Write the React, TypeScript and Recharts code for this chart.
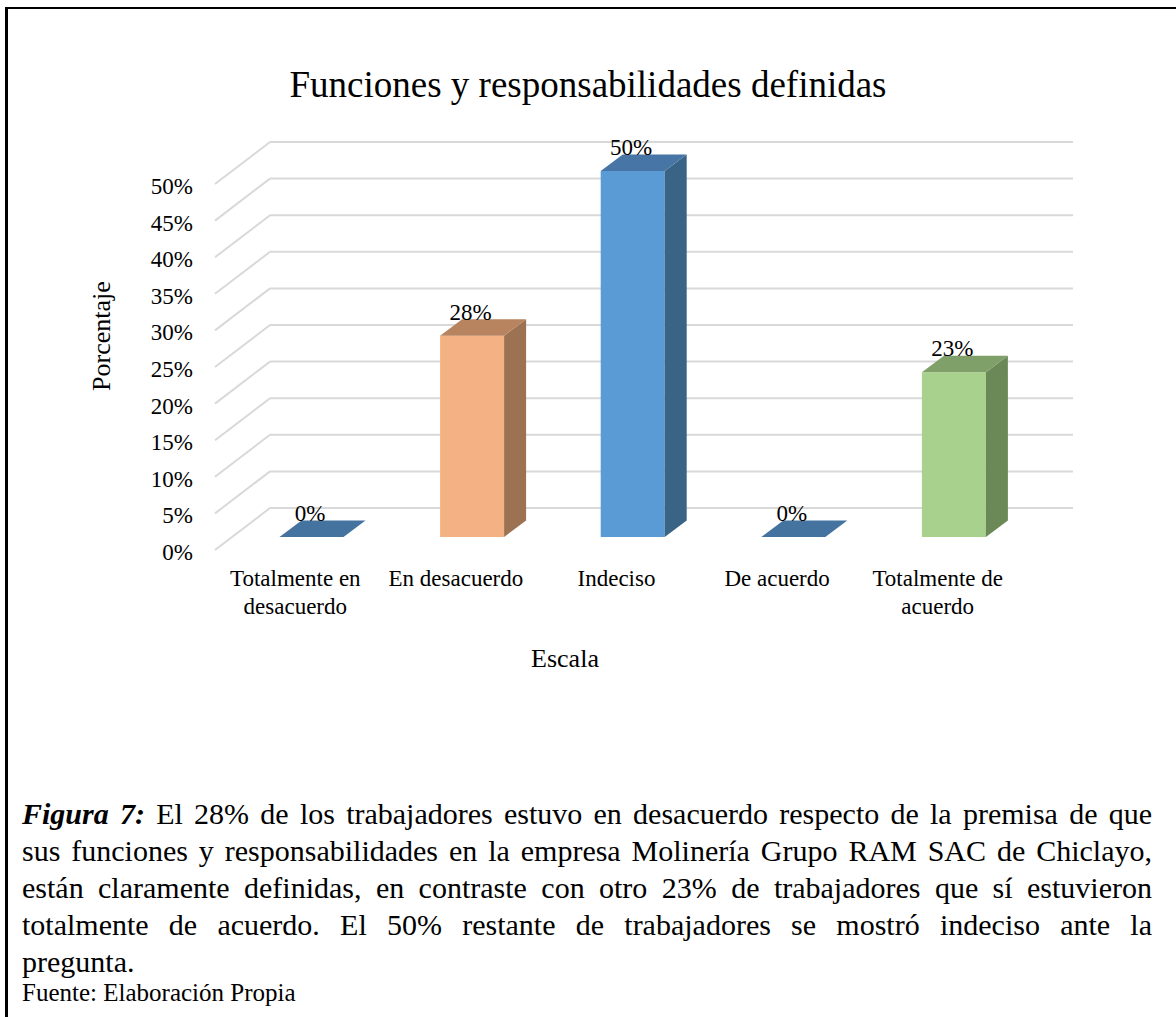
import { BarChart, Bar, XAxis, YAxis, CartesianGrid, Cell, LabelList } from 'recharts';

const categories = [
  'Totalmente en desacuerdo',
  'En desacuerdo',
  'Indeciso',
  'De acuerdo',
  'Totalmente de acuerdo',
];
// how the category names break on the axis
const categoryLines = [
  ['Totalmente en', 'desacuerdo'],
  ['En desacuerdo'],
  ['Indeciso'],
  ['De acuerdo'],
  ['Totalmente de', 'acuerdo'],
];
const percentages = [0, 27.5, 50, 0, 22.5];
const yTicks = [0, 5, 10, 15, 20, 25, 30, 35, 40, 45, 50];

const frontColors = ['#5B9BD5', '#F4B183', '#5B9BD5', '#5B9BD5', '#A9D18E'];
const topColors = ['#44739F', '#B8845F', '#4675A6', '#44739F', '#80A06A'];
const sideColors = ['#3A6485', '#9C7253', '#3A6485', '#3A6485', '#6B8857'];

const data = categories.map((name, i) => ({ name, value: percentages[i] }));

const FONT = '"Liberation Serif", "Times New Roman", serif';

// floor depth: back wall -> front edge
const DX = 55;
const DY = 42;
// bars sit part way into the floor
const BAR_SHIFT_X = -38.5;
const BAR_SHIFT_Y = 29;
const BAR_DEPTH_X = 22;
const BAR_DEPTH_Y = 16.5;

function Bar3D(props: any) {
  const { x, y, width, height, index } = props;
  const fx = x + BAR_SHIFT_X;
  const top = y + BAR_SHIFT_Y;
  const bottom = y + height + BAR_SHIFT_Y;
  const topFace = `M${fx},${top} L${fx + width},${top} L${fx + width + BAR_DEPTH_X},${top - BAR_DEPTH_Y} L${fx + BAR_DEPTH_X},${top - BAR_DEPTH_Y} Z`;
  if (!height || height < 0.5) {
    return <path d={topFace} fill={topColors[index]} />;
  }
  const sideFace = `M${fx + width},${top} L${fx + width + BAR_DEPTH_X},${top - BAR_DEPTH_Y} L${fx + width + BAR_DEPTH_X},${bottom - BAR_DEPTH_Y} L${fx + width},${bottom} Z`;
  return (
    <g>
      <rect x={fx} y={top} width={width} height={bottom - top} fill={frontColors[index]} />
      <path d={sideFace} fill={sideColors[index]} />
      <path d={topFace} fill={topColors[index]} />
    </g>
  );
}

function YTick(props: any) {
  const { x, y, payload } = props;
  return (
    <g>
      <line x1={x} y1={y} x2={x - DX} y2={y + DY} stroke="#D9D9D9" strokeWidth={2} />
      <text x={x - DX - 22} y={y + DY + 10} textAnchor="end" fontFamily={FONT} fontSize={23} fill="#000">
        {payload.value}%
      </text>
    </g>
  );
}

function XTick(props: any) {
  const { x, y, index } = props;
  const lines = categoryLines[index] || [];
  return (
    <text x={x - DX} y={y + 78} textAnchor="middle" fontFamily={FONT} fontSize={23} fill="#000">
      {lines.map((l, i) => (
        <tspan key={i} x={x - DX} dy={i === 0 ? 0 : 27.5}>
          {l}
        </tspan>
      ))}
    </text>
  );
}

function BarValue(props: any) {
  const { x, y, width, value } = props;
  return (
    <text
      x={x + width / 2 + BAR_SHIFT_X - 1.5}
      y={y + BAR_SHIFT_Y - 16}
      textAnchor="middle"
      fontFamily={FONT}
      fontSize={23}
      fill="#000"
    >
      {Math.round(value)}%
    </text>
  );
}

const captionLines = [
  'sus funciones y responsabilidades en la empresa Molinería Grupo RAM SAC de Chiclayo,',
  'están claramente definidas, en contraste con otro 23% de trabajadores que sí estuvieron',
  'totalmente de acuerdo. El 50% restante de trabajadores se mostró indeciso ante la',
];

export default function App() {
  const justified = {
    textAlign: 'justify' as const,
    textAlignLast: 'justify' as const,
    whiteSpace: 'nowrap' as const,
  };
  return (
    <div
      style={{
        position: 'fixed',
        left: 0,
        top: 0,
        width: 1176,
        height: 1017,
        background: '#fff',
        overflow: 'hidden',
        fontFamily: FONT,
        color: '#000',
      }}
    >
      <div
        style={{
          position: 'absolute',
          left: 5,
          top: 7,
          width: 1300,
          height: 1200,
          borderLeft: '3px solid #000',
          borderTop: '2px solid #000',
        }}
      />
      <div
        style={{
          position: 'absolute',
          left: 0,
          top: 66,
          width: 1176,
          textAlign: 'center',
          fontSize: 37,
          lineHeight: '37px',
        }}
      >
        Funciones y responsabilidades definidas
      </div>
      <div style={{ position: 'absolute', left: 0, top: 0 }}>
        <BarChart
          width={1176}
          height={720}
          data={data}
          margin={{ top: 142, right: 103, left: 210, bottom: 112 }}
        >
          <CartesianGrid horizontal vertical={false} stroke="#D9D9D9" strokeWidth={2} />
          <XAxis
            dataKey="name"
            height={100}
            interval={0}
            tickLine={false}
            axisLine={false}
            tickSize={0}
            tickMargin={0}
            tick={<XTick />}
            label={{
              content: () => (
                <text x={565} y={667} textAnchor="middle" fontFamily={FONT} fontSize={26} fill="#000">
                  Escala
                </text>
              ),
            }}
          />
          <YAxis
            width={60}
            domain={[0, 50]}
            ticks={yTicks}
            interval={0}
            tickLine={false}
            axisLine={false}
            tickSize={0}
            tickMargin={0}
            tick={<YTick />}
            label={{
              content: () => (
                <text
                  x={101}
                  y={336}
                  textAnchor="middle"
                  dominantBaseline="central"
                  transform="rotate(-90, 101, 336)"
                  fontFamily={FONT}
                  fontSize={26}
                  fill="#000"
                >
                  Porcentaje
                </text>
              ),
            }}
          />
          <Bar dataKey="value" barSize={64} shape={<Bar3D />} isAnimationActive={false}>
            {data.map((d, i) => (
              <Cell key={d.name} fill={frontColors[i]} />
            ))}
            <LabelList dataKey="value" content={<BarValue />} />
          </Bar>
        </BarChart>
      </div>
      <div
        style={{
          position: 'absolute',
          left: 22,
          top: 795,
          width: 1130,
          fontSize: 30,
          lineHeight: '37px',
        }}
      >
        <div style={justified}>
          <b>
            <i>Figura 7:</i>
          </b>{' '}
          El 28% de los trabajadores estuvo en desacuerdo respecto de la premisa de que
        </div>
        {captionLines.map((l) => (
          <div key={l} style={justified}>
            {l}
          </div>
        ))}
        <div>pregunta.</div>
        <div style={{ fontSize: 25, lineHeight: '26px' }}>Fuente: Elaboración Propia</div>
      </div>
    </div>
  );
}
